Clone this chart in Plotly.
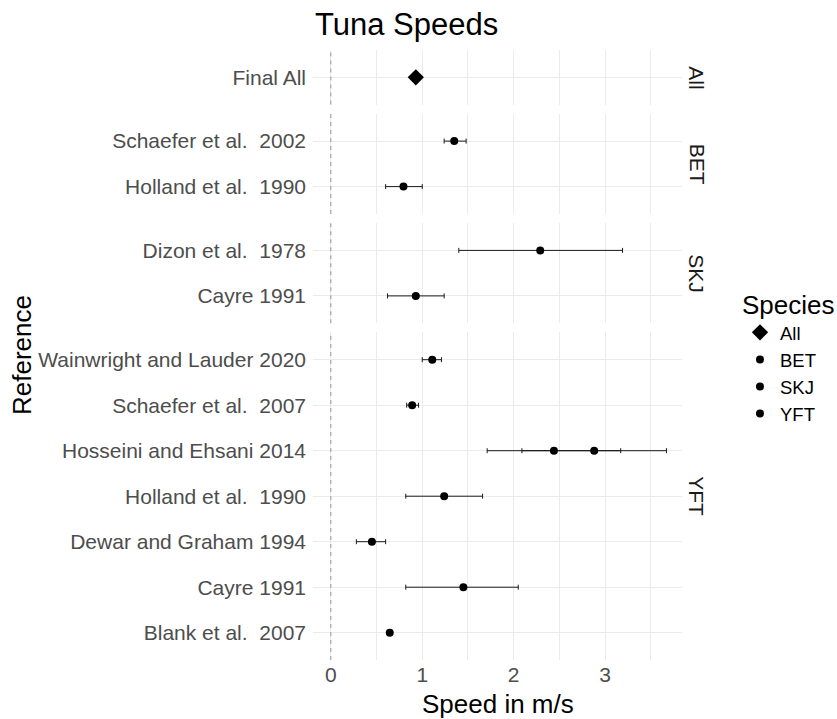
import plotly.graph_objects as go
from plotly.subplots import make_subplots

# ---- data ----
species_levels = ["All", "BET", "SKJ", "YFT"]
reference = ["Final All",
             "Schaefer et al.\u00a0 2002", "Holland et al.\u00a0 1990",
             "Dizon et al.\u00a0 1978", "Cayre 1991",
             "Wainwright and Lauder 2020", "Schaefer et al.\u00a0 2007",
             "Hosseini and Ehsani 2014", "Hosseini and Ehsani 2014",
             "Holland et al.\u00a0 1990", "Dewar and Graham 1994",
             "Cayre 1991", "Blank et al.\u00a0 2007"]
species = ["All", "BET", "BET", "SKJ", "SKJ",
           "YFT", "YFT", "YFT", "YFT", "YFT", "YFT", "YFT", "YFT"]
speed = [0.93, 1.35, 0.795, 2.29, 0.93, 1.11, 0.89, 2.44, 2.88, 1.24, 0.45, 1.45, 0.645]
lower = [None, 1.24, 0.60, 1.40, 0.62, 1.00, 0.83, 1.71, 2.09, 0.82, 0.28, 0.82, None]
upper = [None, 1.48, 1.00, 3.19, 1.24, 1.21, 0.96, 3.17, 3.67, 1.66, 0.60, 2.05, None]
x_ticks = [0, 1, 2, 3]

FONT = "Liberation Sans, Arial, sans-serif"
TICK_SIZE = 21

# category order per panel (bottom -> top, alphabetical like ggplot)
panels = {}
for sp in species_levels:
    cats = sorted(set(r for r, s in zip(reference, species) if s == sp),
                  key=lambda t: t.replace("\u00a0", " "))
    panels[sp] = cats

row_heights = [len(panels[sp]) - 1 + 1.2 for sp in species_levels]

W, H = 837, 719
ml, mr, mt, mb = 313, 155, 50, 59
plot_h = H - mt - mb
gap = 9.2 / plot_h

fig = make_subplots(rows=4, cols=1, shared_xaxes=True,
                    row_heights=row_heights, vertical_spacing=gap)

for i, sp in enumerate(species_levels):
    idx = [k for k, s in enumerate(species) if s == sp]
    xs = [speed[k] for k in idx]
    ys = [reference[k] for k in idx]
    lo = [lower[k] if lower[k] is not None else speed[k] for k in idx]
    hi = [upper[k] if upper[k] is not None else speed[k] for k in idx]
    if sp == "All":
        marker = dict(symbol="diamond", size=12.5, color="black")
        err = None
    else:
        marker = dict(symbol="circle", size=8, color="black")
        err = dict(type="data", symmetric=False,
                   array=[h - x for h, x in zip(hi, xs)],
                   arrayminus=[x - l for x, l in zip(xs, lo)],
                   color="#1a1a1a", thickness=1, width=2.5)
    fig.add_trace(go.Scatter(x=xs, y=ys, mode="markers", name=sp,
                             marker=marker, error_x=err,
                             showlegend=True), row=i + 1, col=1)
    n = len(panels[sp])
    fig.update_yaxes(type="category", categoryorder="array",
                     categoryarray=panels[sp], range=[-0.6, n - 0.4],
                     showgrid=True, gridcolor="#ebebeb", gridwidth=1,
                     zeroline=False, showline=False, ticks="",
                     ticklabelstandoff=6,
                     tickfont=dict(family=FONT, size=TICK_SIZE, color="#4d4d4d"),
                     row=i + 1, col=1)
    # dashed zero line per panel
    fig.add_vline(x=0, line=dict(color="#ababab", width=1.3, dash="4px,4px"),
                  row=i + 1, col=1)
    # strip label
    fig.add_annotation(text=sp, xref="paper", x=1, xshift=15, xanchor="center",
                       yref=f"y{'' if i == 0 else i + 1} domain", y=0.5,
                       yanchor="middle", textangle=90, showarrow=False,
                       font=dict(family=FONT, size=TICK_SIZE, color="#1a1a1a"))

fig.update_xaxes(range=[-0.194, 3.84], tickvals=x_ticks,
                 showgrid=True, gridcolor="#ebebeb", gridwidth=1,
                 minor=dict(dtick=0.5, tick0=0, showgrid=True,
                            gridcolor="#ebebeb", gridwidth=0.6),
                 zeroline=False, showline=False, ticks="",
                 tickfont=dict(family=FONT, size=TICK_SIZE, color="#4d4d4d"))

fig.add_annotation(text="Speed in m/s", xref="paper", x=0.5, xanchor="center",
                   yref="paper", y=0, yshift=-44, yanchor="middle",
                   showarrow=False, font=dict(family=FONT, size=26, color="black"))
fig.add_annotation(text="Reference", xref="paper", x=0, xshift=-291,
                   xanchor="center", yref="paper", y=0.5, yanchor="middle",
                   textangle=-90, showarrow=False,
                   font=dict(family=FONT, size=26, color="black"))

fig.update_layout(
    width=W, height=H,
    margin=dict(l=ml, r=mr, t=mt, b=mb, autoexpand=False),
    paper_bgcolor="white", plot_bgcolor="white",
    font=dict(family=FONT, color="black"),
    title=dict(text="Tuna Speeds", x=315 / W, xanchor="left", xref="container",
               y=1 - 24 / H, yanchor="middle", yref="container",
               font=dict(family=FONT, size=31, color="black")),
    legend=dict(x=(740 - ml) / (W - ml - mr), xanchor="left",
                y=(H - mb - 280) / plot_h, yanchor="top",
                title=dict(text="Species", font=dict(family=FONT, size=26)),
                font=dict(family=FONT, size=18.5, color="black"),
                bgcolor="rgba(0,0,0,0)", tracegroupgap=0),
)

fig.write_html("out.html")
